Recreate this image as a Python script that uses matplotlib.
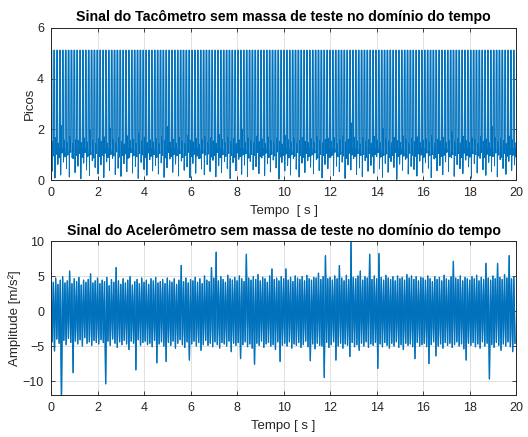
import numpy as np
import matplotlib
matplotlib.use("Agg")
import matplotlib.pyplot as plt

plt.rcParams['font.family'] = ['Liberation Sans', 'DejaVu Sans']

# ---------------- data ----------------
# Tachometer: pulse train, level of the pulse top, baseline level
tacho_period = 0.1235      # s between pulses
tacho_top = 5.12
tacho_base = 1.25
# per-pulse downward dip after each pulse (hundredths)
tacho_dip = [
    35, 8, 62, 20, 71, 45, 12, 88, 30, 55, 5, 67, 40, 18, 77, 50, 25, 60,
    10, 72, 38, 85, 22, 47, 15, 65, 33, 90, 28, 54, 7, 70, 42, 19, 80, 36,
    58, 24, 68, 11, 49, 83, 31, 63, 16, 75, 39, 52, 9, 66, 27, 86, 44, 21,
    61, 34, 78, 13, 56, 29, 73, 46, 6, 69, 37, 82, 23, 59, 14, 74, 41, 53,
    26, 87, 17, 64, 32, 79, 48, 4, 70, 36, 57, 20, 84, 43, 12, 67, 30, 76,
    51, 25, 81, 38, 9, 62, 45, 89, 18, 55, 33, 71, 7, 60, 40, 85, 22, 48,
    14, 77, 35, 58, 27, 92, 44, 11, 66, 31, 73, 50, 3, 63, 39, 80, 24, 54,
    42, 16, 75, 29, 68, 47, 10, 83, 37, 57, 21, 72, 34, 88, 15, 61, 45, 26,
    79, 52, 8, 65, 28, 86, 41, 19, 70, 33, 56, 13, 81, 46, 23, 74, 38, 60,
]
# per-pulse upward noise excursion (hundredths)
tacho_hi = [
    152, 168, 145, 215, 158, 149, 171, 143, 160, 155, 147, 166, 150, 198, 157, 144, 163, 153,
    170, 146, 205, 159, 148, 167, 151, 142, 174, 156, 162, 145, 185, 154, 169, 147, 158, 150,
    164, 143, 172, 155, 210, 149, 161, 146, 168, 153, 144, 176, 157, 150, 165, 142, 159, 171,
    148, 166, 154, 145, 180, 160, 147, 169, 152, 163, 143, 158, 201, 149, 167, 155, 146, 173,
    151, 162, 144, 170, 156, 148, 165, 153, 142, 175, 159, 150, 166, 145, 157, 168, 152, 147,
    163, 149, 171, 155, 146, 160, 165, 152, 167, 144, 158, 173, 150, 161, 225, 169, 154, 143,
    166, 151, 159, 145, 172, 157, 148, 203, 162, 153, 146, 168, 155, 149, 174, 160, 144, 165,
    152, 170, 147, 158, 163, 150, 176, 145, 161, 154, 168, 148, 157, 190, 151, 164, 146, 172,
    155, 149, 167, 160, 144, 171, 153, 162, 147, 212, 169, 150, 165, 156, 143, 173, 159, 148,
]
# per-pulse low noise excursion (hundredths)
tacho_lo = [
    95, 102, 88, 107, 92, 99, 110, 86, 97, 104, 90, 108, 94, 100, 87, 105, 93, 98,
    106, 89, 101, 95, 111, 91, 97, 103, 86, 108, 96, 92, 104, 99, 88, 107, 94, 100,
    90, 105, 97, 87, 109, 93, 101, 96, 104, 89, 98, 110, 92, 102, 95, 86, 106, 99,
    103, 91, 96, 108, 88, 100, 94, 105, 97, 90, 107, 93, 99, 104, 87, 101, 96, 109,
    92, 98, 106, 89, 102, 95, 111, 91, 97, 103, 88, 100, 94, 108, 96, 90, 105, 93,
    99, 107, 87, 101, 96, 104, 90, 98, 110, 92, 102, 95, 86, 106, 99, 93, 104, 97,
    101, 89, 105, 94, 100, 108, 91, 97, 103, 88, 96, 109, 93, 102, 95, 87, 106, 98,
    94, 103, 99, 90, 107, 96, 101, 88, 105, 93, 98, 110, 92, 100, 97, 104, 89, 106,
    97, 91, 104, 100, 95, 108, 89, 102, 96, 93, 107, 99, 90, 105, 94, 101, 98, 92,
]

# Accelerometer: positive and negative peaks, one pair every 0.1 s (tenths of m/s^2)
acc_step = 0.1
acc_upper = [
    45, 41, 47, 38, 44, 49, 40, 43, 57, 39, 46, 42, 48, 37, 44, 41, 45, 53, 40, 43,
    47, 39, 44, 42, 48, 36, 45, 41, 62, 43, 38, 46, 40, 44, 49, 37, 42, 45, 39, 47,
    41, 44, 38, 46, 43, 48, 40, 42, 45, 39, 47, 43, 41, 46, 38, 44, 65, 42, 47, 40,
    45, 43, 48, 41, 46, 39, 50, 44, 42, 62, 47, 84, 43, 49, 45, 41, 51, 46, 44, 48,
    43, 50, 46, 42, 81, 47, 44, 49, 45, 52, 43, 48, 46, 41, 50, 60, 45, 47, 43, 49,
    46, 60, 44, 48, 42, 50, 47, 45, 49, 43, 51, 46, 44, 48, 47, 54, 45, 49, 79, 46,
    48, 44, 50, 46, 65, 47, 43, 51, 45, 98, 48, 46, 50, 57, 44, 49, 47, 81, 45, 50,
    46, 82, 48, 44, 51, 47, 45, 49, 43, 50, 46, 48, 44, 52, 47, 50, 45, 49, 43, 48,
    47, 44, 50, 46, 42, 49, 45, 48, 43, 51, 46, 44, 49, 71, 47, 45, 50, 43, 48, 46,
    44, 49, 46, 51, 43, 48, 45, 68, 47, 44, 50, 46, 68, 48, 45, 52, 47, 79, 46, 49,
]
acc_lower = [
    -44, -57, -40, -46, -125, -42, -48, -39, -45, -88, -43, -47, -41, -50, -38, -46, -44, -49, -42, -45,
    -47, -41, -45, -104, -43, -49, -40, -46, -52, -44, -48, -42, -47, -55, -43, -46, -84, -41, -49, -45,
    -43, -48, -46, -51, -42, -74, -47, -44, -50, -72, -45, -49, -43, -53, -46, -41, -48, -52, -44, -70,
    -47, -43, -50, -45, -56, -48, -42, -49, -46, -51, -44, -48, -53, -45, -47, -50, -43, -58, -46, -49,
    -45, -68, -48, -44, -51, -47, -53, -76, -46, -49, -43, -52, -47, -45, -50, -48, -55, -44, -72, -49,
    -46, -50, -44, -53, -47, -49, -45, -52, -48, -43, -51, -71, -47, -54, -46, -49, -50, -95, -45, -52,
    -48, -44, -70, -50, -46, -53, -47, -49, -65, -45, -51, -48, -56, -46, -50, -44, -52, -47, -49, -45,
    -82, -47, -51, -45, -49, -53, -46, -50, -44, -52, -48, -55, -46, -49, -47, -51, -68, -45, -50, -48,
    -46, -51, -75, -48, -44, -64, -50, -47, -53, -45, -49, -46, -52, -48, -44, -50, -47, -54, -70, -46,
    -49, -45, -51, -47, -53, -44, -50, -46, -97, -48, -52, -45, -49, -56, -47, -50, -44, -51, -58, -46,
]

x_ticks = [0, 2, 4, 6, 8, 10, 12, 14, 16, 18, 20]
tacho_yticks = [0, 2, 4, 6]
acc_yticks = [-10, -5, 0, 5, 10]

assert len(tacho_dip) == len(tacho_hi) == len(tacho_lo)
assert len(acc_upper) == len(acc_lower)

# ---------------- assemble sampled signals ----------------
tacho_y = []
for d, h, l in zip(tacho_dip, tacho_hi, tacho_lo):
    tacho_y += [tacho_top] * 3 + [d / 100, h / 100, l / 100, tacho_base, l / 100]
tacho_y = np.array(tacho_y)
tacho_t = np.arange(len(tacho_y)) * (tacho_period / 8)

acc_y = np.empty(2 * len(acc_upper))
acc_y[0::2] = np.array(acc_upper) / 10
acc_y[1::2] = np.array(acc_lower) / 10
acc_t = np.arange(len(acc_y)) * (acc_step / 2)

# ---------------- figure ----------------
blue = '#0072BD'
dark = '#262626'
fig = plt.figure(figsize=(5.28, 4.37), dpi=100)
ax1 = fig.add_axes([0.0966, 0.588, 0.881, 0.348])
ax2 = fig.add_axes([0.0966, 0.0961, 0.881, 0.3524])

def style(ax):
    ax.set_xlim(0, 20)
    ax.set_xticks(x_ticks)
    ax.grid(True, color='#dcdcdc', linewidth=0.6)
    ax.set_axisbelow(True)
    ax.tick_params(direction='in', top=True, right=True, length=3, width=0.6,
                   labelsize=9, colors=dark, pad=5)
    for s in ax.spines.values():
        s.set_color(dark)
        s.set_linewidth(0.7)

# dense signals: stroke twice so overlapping anti-aliased edges render solid
for _ in range(2):
    ax1.plot(tacho_t, tacho_y, color=blue, linewidth=0.6)
style(ax1)
ax1.set_ylim(0, 6)
ax1.set_yticks(tacho_yticks)
ax1.set_title('Sinal do Tacômetro sem massa de teste no domínio do tempo',
              fontsize=10.2, fontweight='bold', pad=5, color='black')
ax1.set_xlabel('Tempo  [ s ]', fontsize=9.5, color=dark, labelpad=4)
ax1.set_ylabel('Picos', fontsize=9.5, color=dark, labelpad=1)

for _ in range(2):
    ax2.plot(acc_t, acc_y, color=blue, linewidth=0.9)
style(ax2)
ax2.set_ylim(-12, 10)
ax2.set_yticks(acc_yticks)
ax2.set_title('Sinal do Acelerômetro sem massa de teste no domínio do tempo',
              fontsize=10.2, fontweight='bold', pad=4, color='black')
ax2.set_xlabel('Tempo [ s ]', fontsize=9.5, color=dark, labelpad=4)
ax2.set_ylabel('Amplitude [m/s²]', fontsize=9.5, color=dark, labelpad=1)

fig.savefig('out.png', dpi=100)
